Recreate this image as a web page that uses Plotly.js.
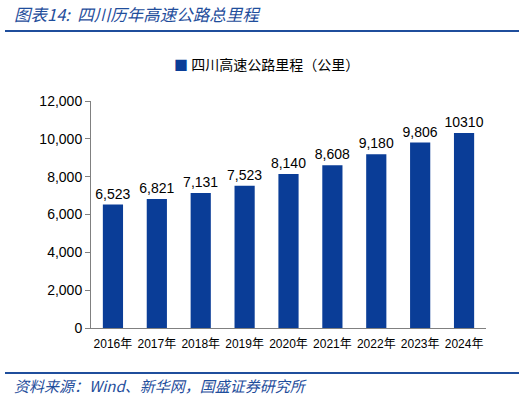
<!DOCTYPE html>
<html><head><meta charset="utf-8">
<script src="https://cdn.plot.ly/plotly-3.0.1.min.js"></script>
<style>body{margin:0}#c{width:526px;height:398px}</style>
</head><body><div id="c"></div>
<script>
const years = ["2016年","2017年","2018年","2019年","2020年","2021年","2022年","2023年","2024年"];
const mileage = [6523, 6821, 7131, 7523, 8140, 8608, 9180, 9806, 10310];
const labels = ["6,523","6,821","7,131","7,523","8,140","8,608","9,180","9,806","10310"];
const seriesName = "四川高速公路里程（公里）";
const titleText = "图表14:  四川历年高速公路总里程";
const sourceText = "资料来源：Wind、新华网，国盛证券研究所";
const yTicks = [0,2000,4000,6000,8000,10000,12000];
const yTickText = ["0","2,000","4,000","6,000","8,000","10,000","12,000"];

const blue = "#0a3d97";
const font = "Liberation Sans, Noto Sans CJK SC, sans-serif";
Plotly.newPlot("c", [{
  type: "bar", x: years, y: mileage, name: seriesName,
  marker: {color: blue}, width: 0.46,
  text: labels, textposition: "outside", cliponaxis: false, constraintext: "none",
  textfont: {size: 14, color: "#000", family: font}
}], {
  width: 526, height: 398,
  margin: {l: 91, r: 40, t: 101, b: 70},
  paper_bgcolor: "#fff", plot_bgcolor: "#fff",
  font: {family: font, color: "#000"},
  showlegend: false,
  xaxis: {type: "category", showline: true, linecolor: "#808080", linewidth: 1, tickangle: 0,
          ticks: "", ticklabelstandoff: 5, tickfont: {size: 12, family: font}, showgrid: false, fixedrange: true},
  yaxis: {range: [0, 12000], tickvals: yTicks, ticktext: yTickText, showline: true,
          linecolor: "#808080", linewidth: 1, ticks: "outside", ticklen: 5, tickcolor: "#808080",
          tickfont: {size: 14, family: font}, showgrid: false, zeroline: false, fixedrange: true},
  annotations: [
    {text: titleText, xref: "paper", yref: "paper", x: 0, y: 0, xanchor: "left", yanchor: "middle",
     showarrow: false, font: {size: 16.5, color: "#1f4e9c", family: "Noto Sans CJK SC", style: "italic"}},
    {text: sourceText, xref: "paper", yref: "paper", x: 0, y: 0, xanchor: "left", yanchor: "middle",
     showarrow: false, font: {size: 15, color: "#1f4e9c", family: "Noto Sans CJK SC", style: "italic"}},
    {text: '<span style="color:' + blue + '">■</span> ' + seriesName, xref: "paper", yref: "paper",
     x: 0, y: 0, xanchor: "left", yanchor: "middle", showarrow: false,
     font: {size: 14, color: "#000", family: "Noto Sans CJK SC"}}
  ],
  shapes: [
    {type: "line", xref: "paper", yref: "paper", x0: 0, x1: 1, y0: 0, y1: 0,
     line: {color: "#1f4e9c", width: 2}},
    {type: "line", xref: "paper", yref: "paper", x0: 0, x1: 1, y0: 0, y1: 0,
     line: {color: "#1f4e9c", width: 2}}
  ]
}, {displayModeBar: false, staticPlot: true}).then(gd => {
  const L = gd._fullLayout, pw = L._size.w, ph = L._size.h, ml = L._size.l, mt = L._size.t;
  const px = x => (x - ml) / pw, py = y => 1 - (y - mt) / ph;
  Plotly.relayout(gd, {
    "annotations[0].x": px(12), "annotations[0].y": py(14),
    "annotations[1].x": px(12), "annotations[1].y": py(385),
    "annotations[2].x": px(172), "annotations[2].y": py(64),
    "shapes[0].x0": px(5), "shapes[0].x1": px(519), "shapes[0].y0": py(31), "shapes[0].y1": py(31),
    "shapes[1].x0": px(5), "shapes[1].x1": px(519), "shapes[1].y0": py(373), "shapes[1].y1": py(373)
  });
});
</script></body></html>
